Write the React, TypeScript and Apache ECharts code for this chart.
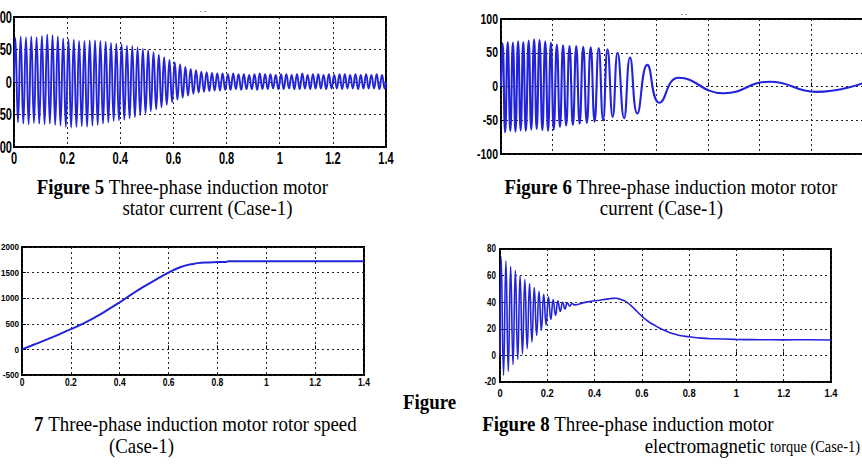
import React, { useEffect, useRef } from "react";
import * as echarts from "echarts";

// Stator current (Case-1): positive and negative peak of every 50 Hz cycle (A)
const statorUpper = [
  68, 70, 69, 70, 69, 71, 73, 72, 70, 67,
  66, 65, 63, 63, 64, 64, 63, 62, 60, 59,
  58, 56, 55, 53, 51, 49, 46, 42, 38, 34,
  30, 27, 23, 20, 18, 16, 15, 14, 13, 13,
  12, 13, 12, 12, 11, 12, 13, 12, 12, 11,
  12, 12, 11, 12, 13, 11, 12, 12, 11, 12,
  11, 12, 12, 11, 12, 11, 12, 11, 12, 11,
];
const statorLower = [
  -62, -64, -65, -63, -64, -65, -64, -66, -67, -69,
  -70, -69, -68, -69, -67, -66, -64, -62, -60, -59,
  -58, -56, -54, -51, -48, -45, -42, -39, -35, -31,
  -27, -24, -21, -18, -16, -15, -14, -13, -13, -12,
  -12, -11, -12, -11, -11, -12, -11, -11, -10, -11,
  -11, -10, -11, -11, -10, -11, -10, -10, -11, -10,
  -10, -11, -10, -10, -11, -10, -10, -10, -11, -10,
];
const supplyPeriod = 0.02; // s

// Rotor current (Case-1): successive extremes (s, A)
const rotorTimes = [
  0, 0.006, 0.016, 0.026, 0.036, 0.046, 0.056, 0.066, 0.076, 0.086, 0.096,
  0.107, 0.117, 0.128, 0.138, 0.149, 0.16, 0.171, 0.182, 0.193, 0.204,
  0.216, 0.228, 0.24, 0.252, 0.265, 0.278, 0.291, 0.304, 0.318, 0.332,
  0.347, 0.362, 0.378, 0.395, 0.412, 0.432, 0.451, 0.476, 0.499, 0.527,
  0.566, 0.613, 0.687, 0.86, 1.04, 1.22, 1.4,
];
const rotorValues = [
  0, 64, -68, 66, -66, 65, -67, 67, -65, 66, -66,
  68, -64, 70, -63, 69, -65, 67, -66, 65, -64,
  62, -60, 61, -58, 60, -57, 60, -55, 59, -54,
  58, -52, 57, -50, 55, -45, 50, -47, 43, -40,
  32, -24, 13, -10, 7, -8, 5,
];

// Rotor speed (Case-1), rpm
const speedTimes = [
  0, 0.05, 0.1, 0.15, 0.2, 0.25, 0.3, 0.35, 0.4, 0.45, 0.5, 0.55, 0.6,
  0.65, 0.7, 0.75, 0.8, 0.835, 0.845, 0.9, 1.0, 1.1, 1.2, 1.3, 1.4,
];
const speedValues = [
  0, 95, 190, 290, 395, 505, 630, 770, 920, 1080, 1230, 1370, 1500,
  1610, 1670, 1695, 1705, 1708, 1720, 1722, 1722, 1721, 1721, 1720, 1720,
];

// Electromagnetic torque (Case-1), N·m
const torqueTimes = [
  0, 0.005, 0.015, 0.025, 0.035, 0.045, 0.055, 0.065, 0.075, 0.085, 0.095,
  0.105, 0.115, 0.125, 0.135, 0.145, 0.155, 0.165, 0.175, 0.185, 0.195,
  0.205, 0.215, 0.225, 0.235, 0.245, 0.255, 0.265, 0.275, 0.285, 0.295,
  0.305, 0.315, 0.35, 0.38, 0.42, 0.45, 0.47, 0.49, 0.5, 0.52, 0.54, 0.56,
  0.58, 0.6, 0.62, 0.64, 0.66, 0.68, 0.7, 0.73, 0.76, 0.8, 0.85, 0.9,
  1.0, 1.1, 1.2, 1.3, 1.4,
];
const torqueValues = [
  0, 74, -15, 71, -12, 67, -7, 64, -3, 60, 1,
  57, 5, 54, 10, 51, 15, 48, 19, 46, 23,
  44, 27, 42, 30, 41, 33, 40, 35, 39.5, 37,
  39, 38, 39.5, 40.5, 41.5, 42.3, 42.8, 43, 42.7, 41.5, 39.5, 36.5,
  33, 29.5, 26.5, 24, 22, 20, 18.5, 16.5, 15, 14, 13, 12.5,
  12, 11.8, 11.7, 11.8, 11.6,
];

// Tick labels
const timeTickLabels = ["0", "0.2", "0.4", "0.6", "0.8", "1", "1.2", "1.4"];
const currentTickLabels = ["-100", "-50", "0", "50", "100"];
const speedTickLabels = ["-500", "0", "500", "1000", "1500", "2000"];
const torqueTickLabels = ["-20", "0", "20", "40", "60", "80"];

const LINE = "#2323dc";
const TICK_FONT = '"Liberation Sans", Arial, sans-serif';
const SERIF = '"Liberation Serif", "Times New Roman", serif';

function zip(ts: number[], vs: number[]) {
  return ts.map((t, i) => [t, vs[i]]);
}

function statorPoints() {
  const pts: number[][] = [[0, 0]];
  statorUpper.forEach((up, k) => {
    pts.push([supplyPeriod * k + supplyPeriod / 4, up]);
    pts.push([supplyPeriod * k + (3 * supplyPeriod) / 4, statorLower[k]]);
  });
  pts.push([1.4, 0]);
  return pts;
}

export default function App() {
  const ref = useRef<HTMLDivElement>(null);

  useEffect(() => {
    if (!ref.current) return;
    const chart = echarts.init(ref.current, undefined, { renderer: "svg" });

    const gridRects = [
      { left: 14, top: 17, width: 372, height: 130 },
      { left: 501, top: 19, width: 362, height: 135 },
      { left: 22, top: 247, width: 342, height: 128 },
      { left: 500, top: 249, width: 331, height: 133 },
    ];
    const grids = gridRects.map((g) => ({
      ...g,
      show: true,
      borderColor: "#000",
      borderWidth: 2,
      backgroundColor: "#fff",
      outerBoundsMode: "none",
    }));

    const yLabels = [currentTickLabels, currentTickLabels, speedTickLabels, torqueTickLabels];
    // per panel: x labels (size, squeeze, offset below frame), y labels (size, squeeze, gap)
    const labelCfg = [
      { xs: 17, xk: 0.65, xo: 11, ys: 17, yk: 0.65, yg: 2, showX: true },
      { xs: 14, xk: 0.75, xo: 10, ys: 14, yk: 0.75, yg: 3, showX: false },
      { xs: 10, xk: 0.85, xo: 8, ys: 9, yk: 0.9, yg: 3, showX: true },
      { xs: 11, xk: 0.85, xo: 11, ys: 10, yk: 0.8, yg: 4, showX: true },
    ];

    const split = { show: true, lineStyle: { color: "#222", type: [2, 3], width: 1 } };
    const tick = { show: true, inside: true, length: 4, lineStyle: { color: "#000" } };

    const xAxis = gridRects.map((_, i) => ({
      type: "value",
      gridIndex: i,
      min: Number(timeTickLabels[0]),
      max: Number(timeTickLabels[timeTickLabels.length - 1]),
      interval: Number(timeTickLabels[1]) - Number(timeTickLabels[0]),
      axisLine: { show: false },
      axisTick: tick,
      axisLabel: { show: false },
      splitLine: split,
    }));

    const yAxis = yLabels.map((labels, i) => ({
      type: "value",
      gridIndex: i,
      min: Number(labels[0]),
      max: Number(labels[labels.length - 1]),
      interval: Number(labels[1]) - Number(labels[0]),
      axisLine: { show: false },
      axisTick: tick,
      axisLabel: { show: false },
      splitLine: split,
    }));

    const line = (i: number, data: number[][], width: number) => ({
      type: "line",
      xAxisIndex: i,
      yAxisIndex: i,
      data,
      smooth: true,
      symbol: "none",
      showSymbol: false,
      lineStyle: { color: LINE, width },
      silent: true,
    });

    chart.setOption({
      animation: false,
      backgroundColor: "#fff",
      grid: grids,
      xAxis,
      yAxis,
      series: [
        line(0, statorPoints(), 1.9),
        line(1, zip(rotorTimes, rotorValues), 2.1),
        line(2, zip(speedTimes, speedValues), 2),
        line(3, zip(torqueTimes, torqueValues), 1.6),
      ],
    });

    // Narrow bold tick labels placed through each panel's own coordinate system
    const tickTexts: any[] = [];
    labelCfg.forEach((c, i) => {
      const labels = yLabels[i];
      const yMin = Number(labels[0]);
      const xMin = Number(timeTickLabels[0]);
      if (c.showX) {
        timeTickLabels.forEach((lab) => {
          const [px, py] = chart.convertToPixel({ gridIndex: i }, [Number(lab), yMin]) as number[];
          tickTexts.push({
            type: "text",
            x: px,
            y: py + c.xo,
            scaleX: c.xk,
            style: {
              text: lab,
              fontFamily: TICK_FONT,
              fontWeight: "bold",
              fontSize: c.xs,
              fill: "#000",
              textAlign: "center",
              textVerticalAlign: "middle",
            },
          });
        });
      }
      labels.forEach((lab) => {
        const [px, py] = chart.convertToPixel({ gridIndex: i }, [xMin, Number(lab)]) as number[];
        tickTexts.push({
          type: "text",
          x: px - c.yg,
          y: py,
          scaleX: c.yk,
          style: {
            text: lab,
            fontFamily: TICK_FONT,
            fontWeight: "bold",
            fontSize: c.ys,
            fill: "#000",
            textAlign: "right",
            textVerticalAlign: "middle",
          },
        });
      });
    });

    const caption = (x: number, y: number, text: string, align: "center" | "left" | "right") => ({
      type: "text",
      x,
      y,
      scaleX: 0.9,
      style: {
        text,
        fill: "#000",
        fontFamily: SERIF,
        fontSize: 21,
        textAlign: align,
        textVerticalAlign: "middle",
        rich: {
          b: { fontFamily: SERIF, fontSize: 21, fontWeight: "bold", fill: "#000" },
          s: { fontFamily: SERIF, fontSize: 16, fill: "#000" },
        },
      },
    });

    chart.setOption({
      graphic: [
        ...tickTexts,
        { type: "text", x: 203, y: 10, style: { text: "- -", fontSize: 7, fill: "#444", textAlign: "center", textVerticalAlign: "middle" } },
        { type: "text", x: 684, y: 13, style: { text: "- -", fontSize: 7, fill: "#444", textAlign: "center", textVerticalAlign: "middle" } },
        caption(182.5, 187, "{b|Figure 5} Three-phase induction motor", "center"),
        caption(207.5, 208, "stator current (Case-1)", "center"),
        caption(671, 187, "{b|Figure 6} Three-phase induction motor rotor", "center"),
        caption(661.5, 208, "current (Case-1)", "center"),
        caption(429.5, 402, "{b|Figure}", "center"),
        caption(195.5, 424, "{b|7} Three-phase induction motor rotor speed", "center"),
        caption(141.5, 446, "(Case-1)", "center"),
        caption(628, 424, "{b|Figure 8} Three-phase induction motor", "center"),
        caption(860, 446, "electromagnetic {s|torque (Case-1)}", "right"),
      ],
    });

    return () => chart.dispose();
  }, []);

  return (
    <div
      ref={ref}
      style={{ position: "fixed", left: 0, top: 0, width: 862, height: 470, background: "#fff" }}
    />
  );
}
